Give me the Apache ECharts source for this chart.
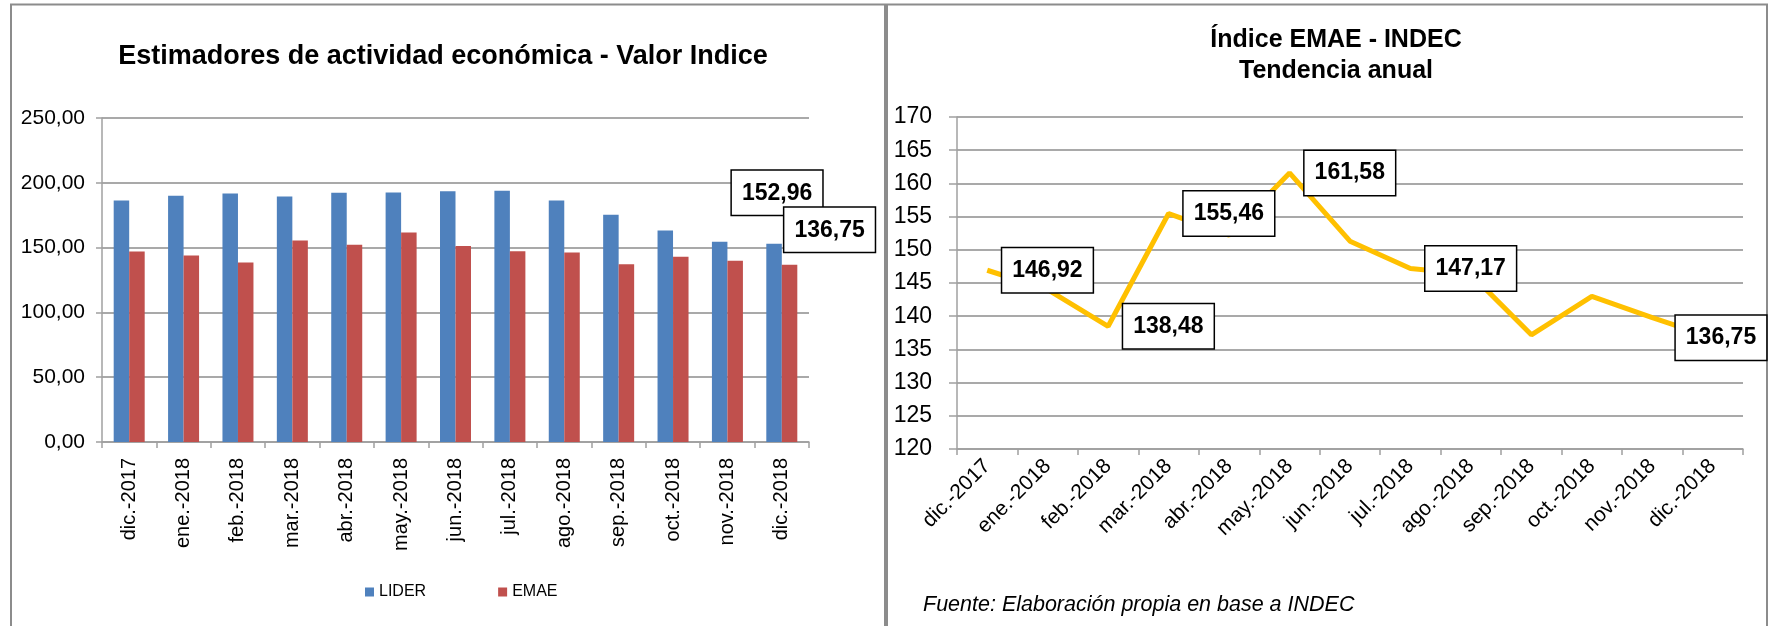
<!DOCTYPE html>
<html><head><meta charset="utf-8">
<script src="https://cdn.jsdelivr.net/npm/echarts@6/dist/echarts.min.js"></script>
<style>html,body{margin:0;padding:0;background:#fff}#c{width:1771px;height:626px}</style>
</head><body><div id="c"></div>
<script>
const categories = ['dic.-2017','ene.-2018','feb.-2018','mar.-2018','abr.-2018','may.-2018','jun.-2018','jul.-2018','ago.-2018','sep.-2018','oct.-2018','nov.-2018','dic.-2018'];
const lider = [186.4, 190.0, 191.8, 189.5, 192.4, 192.6, 193.4, 193.9, 186.4, 175.4, 163.2, 154.5, 152.96];
const emae = [146.92, 144.0, 138.48, 155.46, 152.2, 161.58, 151.3, 147.17, 146.3, 137.2, 143.0, 139.8, 136.75];
const leftTicks = [0, 50, 100, 150, 200, 250];
const rightTicks = [120, 125, 130, 135, 140, 145, 150, 155, 160, 165, 170];
const lineLabelIdx = [0, 2, 3, 5, 7, 12];
const barLabelIdx = [12];

const FONT = '"Liberation Sans", Arial, sans-serif';
const comma = (v, d) => v.toFixed(d).replace('.', ',');
const boxLabel = {
  show: true, fontFamily: FONT, fontSize: 23, fontWeight: 'bold', color: '#000',
  backgroundColor: '#fff', borderColor: '#000', borderWidth: 1.5, padding: [11, 10, 10, 10],
  formatter: p => comma(p.value, 2)
};
const gridLine = {show: true, lineStyle: {color: '#8c8c8c', width: 1.5}};
const axisLine = {show: true, lineStyle: {color: '#a0a0a0', width: 1.5}};

const liderData = lider.map((v, i) => barLabelIdx.includes(i)
  ? {value: v, label: Object.assign({}, boxLabel, {position: 'top', distance: 29, offset: [3, 0]})} : v);
const emaeBarData = emae.map((v, i) => barLabelIdx.includes(i)
  ? {value: v, label: Object.assign({}, boxLabel, {position: 'top', distance: 13, offset: [40, 0]})} : v);
const emaeLineData = emae.map((v, i) => lineLabelIdx.includes(i)
  ? {value: v, label: Object.assign({}, boxLabel, {position: 'right', distance: 15, offset: i === 12 ? [-52, 0] : [0, 0]})} : v);

const chart = echarts.init(document.getElementById('c'), null, {renderer: 'canvas'});
chart.setOption({
  backgroundColor: '#fff',
  animation: false,
  textStyle: {fontFamily: FONT},
  title: [
    {text: 'Estimadores de actividad económica - Valor Indice', left: 438, top: 38, textAlign: 'center',
     textStyle: {fontFamily: FONT, fontSize: 27, fontWeight: 'bold', color: '#000'}},
    {text: 'Índice EMAE - INDEC\nTendencia anual', left: 1331, top: 20, textAlign: 'center',
     textStyle: {fontFamily: FONT, fontSize: 25, fontWeight: 'bold', color: '#000', lineHeight: 31}},
    {text: 'Fuente: Elaboración propia en base a INDEC', left: 918, top: 589,
     textStyle: {fontFamily: FONT, fontSize: 21.5, fontStyle: 'italic', fontWeight: 'normal', color: '#000'}}
  ],
  legend: {
    left: 360, top: 579, itemWidth: 9, itemHeight: 9, itemGap: 72, icon: 'rect',
    data: ['LIDER', 'EMAE'], textStyle: {fontFamily: FONT, fontSize: 16, color: '#000'}
  },
  grid: [
    {left: 102, top: 118, width: 707, height: 324},
    {left: 957, top: 117, width: 786, height: 332}
  ],
  xAxis: [
    {type: 'category', gridIndex: 0, data: categories, boundaryGap: true,
     axisLine: axisLine, axisTick: {show: true, length: 6, alignWithLabel: false, lineStyle: {color: '#a0a0a0', width: 1.5}},
     axisLabel: {rotate: 90, margin: 16, fontSize: 20, color: '#000', fontFamily: FONT, interval: 0}},
    {type: 'category', gridIndex: 1, data: categories, boundaryGap: true,
     axisLine: axisLine, axisTick: {show: true, length: 6, lineStyle: {color: '#a0a0a0', width: 1.5}},
     axisLabel: {rotate: 45, margin: 14, fontSize: 21, color: '#000', fontFamily: FONT, interval: 0}}
  ],
  yAxis: [
    {type: 'value', gridIndex: 0, min: leftTicks[0], max: leftTicks[leftTicks.length - 1], interval: 50,
     axisLine: axisLine, axisTick: {show: true, length: 6, lineStyle: {color: '#a0a0a0', width: 1.5}},
     splitLine: gridLine,
     axisLabel: {fontSize: 21, color: '#000', fontFamily: FONT, margin: 17, formatter: v => comma(v, 2)}},
    {type: 'value', gridIndex: 1, min: rightTicks[0], max: rightTicks[rightTicks.length - 1], interval: 5,
     axisLine: axisLine, axisTick: {show: true, length: 8, lineStyle: {color: '#a0a0a0', width: 1.5}},
     splitLine: gridLine,
     axisLabel: {fontSize: 23, color: '#000', fontFamily: FONT, margin: 25}}
  ],
  series: [
    {name: 'LIDER', type: 'bar', xAxisIndex: 0, yAxisIndex: 0, data: liderData,
     barWidth: 15.5, barGap: '0%', itemStyle: {color: '#4F81BD'}, z: 3},
    {name: 'EMAE', type: 'bar', xAxisIndex: 0, yAxisIndex: 0, data: emaeBarData,
     barWidth: 15.5, barGap: '0%', itemStyle: {color: '#C0504D'}, z: 4},
    {name: 'EMAE índice', type: 'line', xAxisIndex: 1, yAxisIndex: 1, data: emaeLineData,
     showSymbol: true, symbol: 'circle', symbolSize: 0.1, itemStyle: {color: '#FFC000'},
     lineStyle: {color: '#FFC000', width: 5}, label: {show: false}, z: 5}
  ],
  graphic: [
    {type: 'rect', shape: {x: 11, y: 4.5, width: 874, height: 640}, style: {fill: null, stroke: '#8c8c8c', lineWidth: 2}, silent: true},
    {type: 'rect', shape: {x: 887, y: 4.5, width: 880, height: 640}, style: {fill: null, stroke: '#8c8c8c', lineWidth: 2}, silent: true}
  ]
});
</script></body></html>
